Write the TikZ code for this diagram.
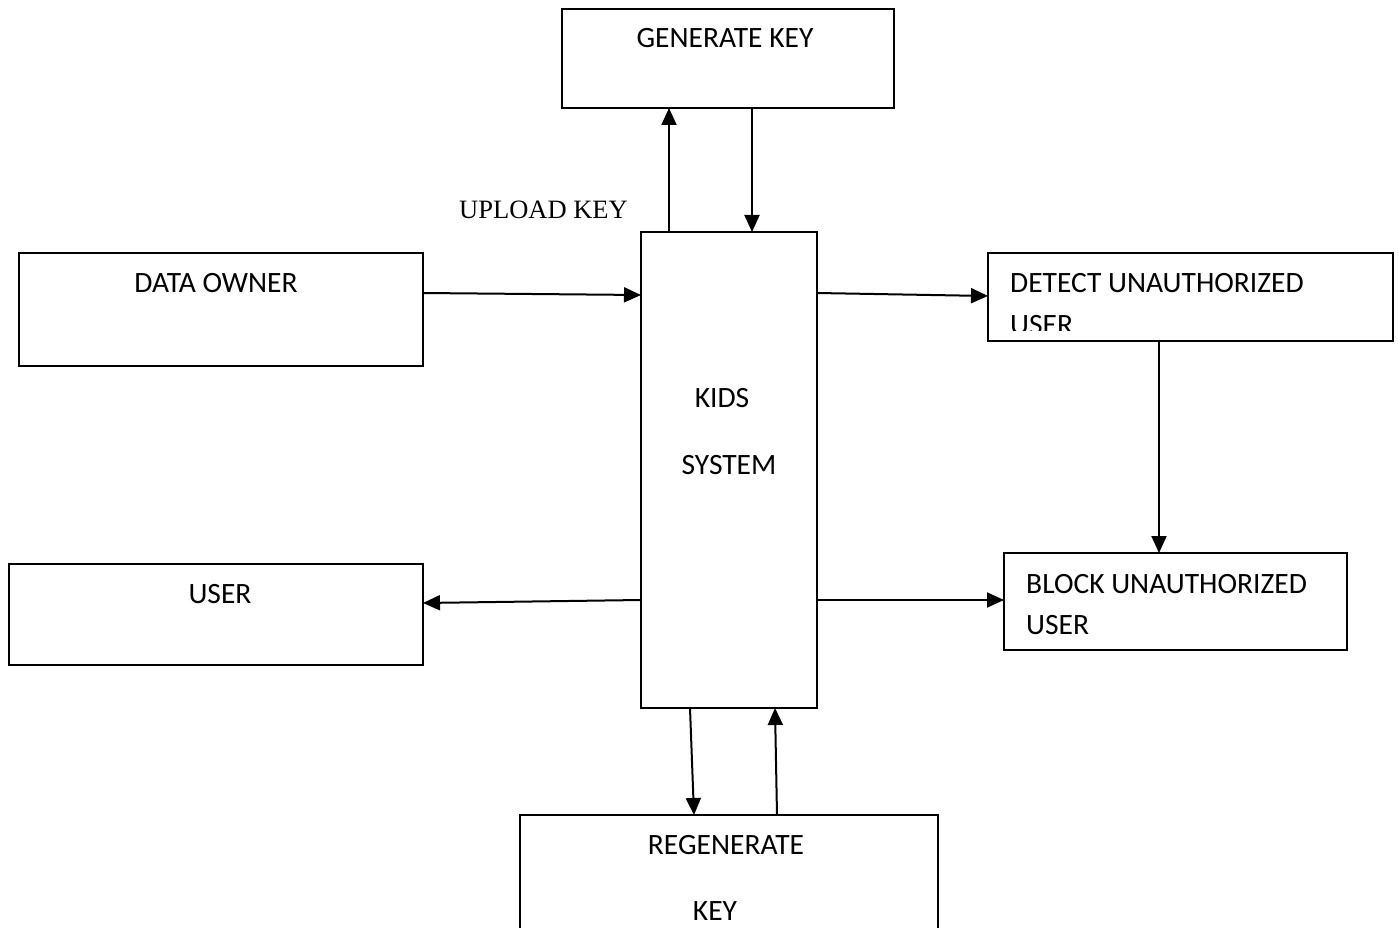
\documentclass[tikz,border=0pt]{standalone}
\usepackage{fontspec}
\setmainfont{Carlito}
\newfontfamily\tnr{Liberation Serif}
\usetikzlibrary{arrows.meta,calc}
\tikzset{
  box/.style={draw, line width=2pt, inner sep=0pt, outer sep=0pt, anchor=north west, fill=white},
  arr/.style={line width=2pt, -{Triangle[length=17pt,width=15pt]}},
  txt/.style={inner sep=0pt, font=\fontsize{29.5}{35}\selectfont},
}
\begin{document}
\begin{tikzpicture}[x=1pt,y=-1pt]
\useasboundingbox (0,0) rectangle (1398,928);
% boxes
\node[box, minimum width=332pt, minimum height=99pt] (gen) at (562,9) {};
\node[box, minimum width=404pt, minimum height=113pt] (own) at (19,253) {};
\node[box, minimum width=176pt, minimum height=476pt] (kids) at (641,232) {};
\node[box, minimum width=405pt, minimum height=88pt] (det) at (988,253) {};
\node[box, minimum width=343pt, minimum height=97pt] (blk) at (1004,553) {};
\node[box, minimum width=414pt, minimum height=101pt] (usr) at (9,564) {};
\node[box, minimum width=418pt, minimum height=130pt] (reg) at (520,815) {};
% texts
\node[txt, anchor=base] (genT) at (725,48) {GENERATE KEY};
\node[txt, anchor=base] (ownT) at (216,292) {DATA OWNER};
\node[txt, anchor=base] (kidsT1) at (722,407) {KIDS};
\node[txt, anchor=base] (kidsT2) at (729,474) {SYSTEM};
\node[txt, anchor=base west] (detT1) at (1010,292) {DETECT UNAUTHORIZED};
\begin{scope}
\clip (988,253) rectangle (1393,330);
\node[txt, anchor=base west] (detT2) at (1010,334) {USER};
\end{scope}
\node[txt, anchor=base west] (blkT1) at (1026,593) {BLOCK UNAUTHORIZED};
\node[txt, anchor=base west] (blkT2) at (1026,634) {USER};
\node[txt, anchor=base] (usrT) at (220,603) {USER};
\node[txt, anchor=base] (regT1) at (726,854) {REGENERATE};
\node[txt, anchor=base] (regT2) at (715,920) {KEY};
\node[txt, anchor=base west, font=\tnr\fontsize{26.5}{32}\selectfont] (up) at (459,219) {UPLOAD KEY};
% connectors
\draw[arr] ($(own.north east)+(0,40)$) -- ($(kids.north west)+(0,63)$);
\draw[arr] ($(kids.north west)+(28,0)$) -- ($(gen.south west)+(107,0)$);
\draw[arr] ($(gen.south west)+(190,0)$) -- ($(kids.north west)+(111,0)$);
\draw[arr] ($(kids.north east)+(0,61)$) -- ($(det.north west)+(0,43)$);
\draw[arr] ($(det.south west)+(171,0)$) -- ($(blk.north west)+(155,0)$);
\draw[arr] ($(kids.north east)+(0,368)$) -- ($(blk.north west)+(0,47)$);
\draw[arr] ($(kids.north west)+(0,368)$) -- ($(usr.north east)+(0,39)$);
\draw[arr] ($(kids.south west)+(49,0)$) -- ($(reg.north west)+(174,0)$);
\draw[arr] ($(reg.north west)+(257,0)$) -- ($(kids.south west)+(134,0)$);
\end{tikzpicture}
\end{document}
